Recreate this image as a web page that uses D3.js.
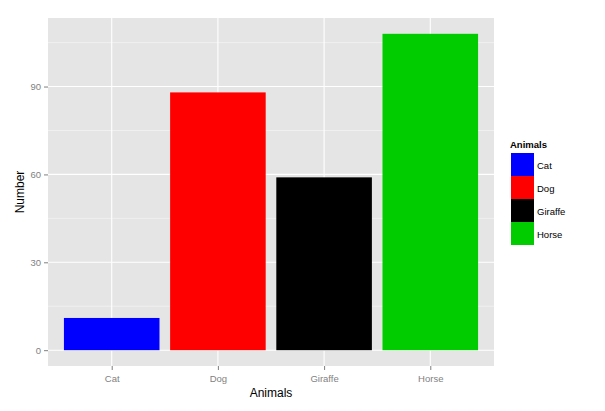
<!DOCTYPE html>
<html><head><meta charset="utf-8">
<script src="https://cdn.jsdelivr.net/npm/d3@7"></script>
<style>body{margin:0;background:#fff}svg{display:block;font-family:"Liberation Sans",Arial,sans-serif}</style>
</head><body><svg id="c" width="605" height="411"></svg>
<script>
const categories = ["Cat","Dog","Giraffe","Horse"];
const values = [11, 88, 59, 108];
const colors = ["#0000FF","#FF0000","#000000","#00CC00"];
const yTicks = [0,30,60,90];
const yMinor = [15,45,75,105];

const svg = d3.select("#c");
const L = 48, R = 494, T = 18, B = 366;
const maxV = d3.max(values);
const y = d3.scaleLinear().domain([-0.05*maxV, 1.05*maxV]).range([B, T]);
const x = d3.scalePoint().domain(categories).range([L + (R-L)*0.6/4.2, R - (R-L)*0.6/4.2]);
const step = (R-L)/4.2;
const bw = step*0.9;

svg.append("rect").attr("x",L).attr("y",T).attr("width",R-L).attr("height",B-T).attr("fill","#E5E5E5");
const g = svg.append("g");
g.selectAll(".ymin").data(yMinor).join("line").attr("x1",L).attr("x2",R)
 .attr("y1",d=>y(d)).attr("y2",d=>y(d)).attr("stroke","#F2F2F2").attr("stroke-width",0.8);
g.selectAll(".ymaj").data(yTicks).join("line").attr("x1",L).attr("x2",R)
 .attr("y1",d=>y(d)).attr("y2",d=>y(d)).attr("stroke","#fff").attr("stroke-width",1.1);
g.selectAll(".xmaj").data(categories).join("line").attr("y1",T).attr("y2",B)
 .attr("x1",d=>x(d)).attr("x2",d=>x(d)).attr("stroke","#fff").attr("stroke-width",1.1);

svg.selectAll(".bar").data(categories).join("rect")
 .attr("x",d=>x(d)-bw/2).attr("width",bw)
 .attr("y",(d,i)=>y(values[i])).attr("height",(d,i)=>y(0)-y(values[i]))
 .attr("fill",(d,i)=>colors[i]);

// axes
const ya = svg.append("g").attr("transform",`translate(${L},0)`)
 .call(d3.axisLeft(y).tickValues(yTicks).tickSize(4).tickPadding(3));
const xa = svg.append("g").attr("transform",`translate(0,${B})`)
 .call(d3.axisBottom(x).tickSize(4).tickPadding(5));
[ya,xa].forEach(a=>{
  a.select(".domain").remove();
  a.selectAll(".tick line").attr("stroke","#7F7F7F");
  a.selectAll(".tick text").attr("fill","#7F7F7F").style("font-size","9.5px")
   .style("font-family","'Liberation Sans',Arial,sans-serif");
});

svg.append("text").attr("x",(L+R)/2).attr("y",397).attr("text-anchor","middle")
 .style("font-size","12px").text("Animals");
svg.append("text").attr("transform",`translate(24,${(T+B)/2}) rotate(-90)`).attr("text-anchor","middle")
 .style("font-size","12px").text("Number");

// legend
const lg = svg.append("g");
lg.append("text").attr("x",510).attr("y",148).style("font-size","9.5px").style("font-weight","bold").text("Animals");
const ks = 23, k0 = 153;
lg.selectAll(".k").data(categories).join("rect")
 .attr("x",511).attr("y",(d,i)=>k0+i*ks).attr("width",23).attr("height",ks)
 .attr("fill",(d,i)=>colors[i]);
lg.selectAll(".kl").data(categories).join("text")
 .attr("x",537).attr("y",(d,i)=>k0+i*ks+ks/2+4.5).style("font-size","9.5px").text(d=>d);
</script></body></html>
